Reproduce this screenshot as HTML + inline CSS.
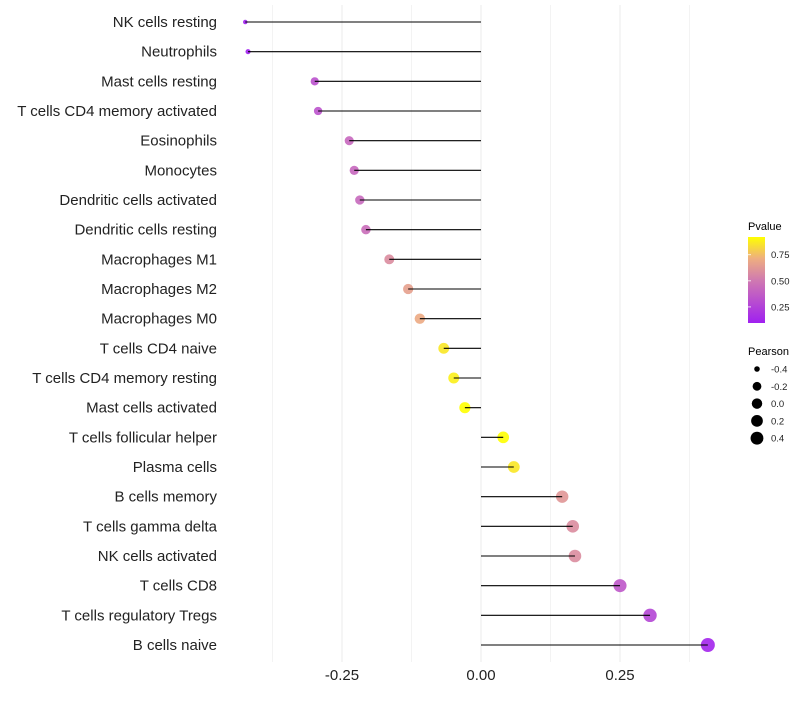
<!DOCTYPE html>
<html><head><meta charset="utf-8"><style>
body{margin:0;background:#fff;font-family:"Liberation Sans",sans-serif}
svg text{font-family:"Liberation Sans",sans-serif}
</style></head><body>
<svg id="chart" width="800" height="700" xmlns="http://www.w3.org/2000/svg">
<defs><linearGradient id="pg" x1="0" y1="1" x2="0" y2="0">
<stop offset="0" stop-color="#a020f0"/><stop offset="0.5" stop-color="#d07ab0"/><stop offset="0.75" stop-color="#eeae80"/><stop offset="1" stop-color="#ffff00"/></linearGradient></defs>
<g id="grid"></g>
<g id="marks"></g>
<g id="ylab"></g>
<g id="xlab"></g>
<g>
<text x="748" y="230" font-size="11">Pvalue</text>
<rect x="748" y="237" width="17" height="86" fill="url(#pg)"/>
<g id="cbt"></g>
</g>
<g id="sizeleg">
<text x="748" y="355" font-size="11">Pearson</text>
</g>
</svg>
<script>
const categories=["NK cells resting","Neutrophils","Mast cells resting","T cells CD4 memory activated","Eosinophils","Monocytes","Dendritic cells activated","Dendritic cells resting","Macrophages M1","Macrophages M2","Macrophages M0","T cells CD4 naive","T cells CD4 memory resting","Mast cells activated","T cells follicular helper","Plasma cells","B cells memory","T cells gamma delta","NK cells activated","T cells CD8","T cells regulatory  Tregs","B cells naive"];
const pearson=[-0.424,-0.419,-0.299,-0.293,-0.237,-0.228,-0.218,-0.207,-0.165,-0.131,-0.110,-0.067,-0.049,-0.029,0.040,0.059,0.146,0.165,0.169,0.250,0.304,0.408];
const pvalue=[0.05,0.06,0.32,0.33,0.42,0.42,0.43,0.45,0.58,0.66,0.70,0.86,0.88,0.95,0.93,0.86,0.62,0.58,0.58,0.35,0.27,0.12];
const xTicks=[-0.25,0,0.25];
const xTickLabels=["-0.25","0.00","0.25"];
const xMinor=[-0.375,-0.125,0.125,0.375];
const cbTicks=[0.25,0.5,0.75];
const cbTickLabels=["0.25","0.50","0.75"];
const sizeVals=[-0.4,-0.2,0,0.2,0.4];
const sizeLabels=["-0.4","-0.2","0.0","0.2","0.4"];
const NS="http://www.w3.org/2000/svg";
const X=v=>481+v*556;
const Y=i=>22+i*(623/21);
const R=v=>2+5*Math.pow(Math.max(0,(v+0.425)/0.835),0.45);
const pMin=0.096,pMax=0.92;
const stops=[[0,[160,32,240]],[0.5,[208,122,176]],[0.75,[238,174,128]],[1,[255,255,0]]];
function col(p){let t=Math.max(0,Math.min(1,(p-pMin)/(pMax-pMin)));for(let k=1;k<stops.length;k++){if(t<=stops[k][0]){const a=stops[k-1],b=stops[k];const f=(t-a[0])/(b[0]-a[0]);return "rgb("+a[1].map((c,j)=>Math.round(c+(b[1][j]-c)*f)).join(",")+")";}}return "rgb(255,255,0)";}
function mk(t,a,p){const e=document.createElementNS(NS,t);for(const k in a)e.setAttribute(k,a[k]);p.appendChild(e);return e;}
const grid=document.getElementById('grid');
xMinor.forEach(v=>{const l=mk('line',{x1:X(v),x2:X(v),y1:5,y2:662,stroke:'#f3f3f3','stroke-width':1},grid);

});
xTicks.forEach(v=>{const l=mk('line',{x1:X(v),x2:X(v),y1:5,y2:662,stroke:'#ebebeb','stroke-width':1},grid);

});
const marks=document.getElementById('marks'),ylab=document.getElementById('ylab');
categories.forEach((c,i)=>{const y=Y(i);
const d=mk('circle',{cx:X(pearson[i]),cy:y,r:R(pearson[i]),fill:col(pvalue[i]),'fill-opacity':0.9},marks);


const s=mk('line',{x1:X(0),x2:X(pearson[i]),y1:y,y2:y,stroke:'#000','stroke-width':1.1},marks);


const t=mk('text',{x:217,y:y+5,'text-anchor':'end','font-size':15,fill:'#222'},ylab);t.textContent=c;

});
const xl=document.getElementById('xlab');
xTicks.forEach((v,i)=>{const t=mk('text',{x:X(v),y:680,'text-anchor':'middle','font-size':15,fill:'#222'},xl);t.textContent=xTickLabels[i];

});
const cbt=document.getElementById('cbt');
cbTicks.forEach((v,i)=>{const y=323-(v-pMin)/(pMax-pMin)*86;
const l=mk('line',{x1:748,x2:751,y1:y,y2:y,stroke:'#fff','stroke-width':0.8},cbt);


const t=mk('text',{x:771,y:y+3.5,'font-size':9.5,fill:'#222'},cbt);t.textContent=cbTickLabels[i];

});
const sl=document.getElementById('sizeleg');
sizeVals.forEach((v,i)=>{const y=369+i*17.3;
const c=mk('circle',{cx:757,cy:y,r:R(v)*0.92,fill:'#000'},sl);


const t=mk('text',{x:771,y:y+3.5,'font-size':9.5,fill:'#222'},sl);t.textContent=sizeLabels[i];

});
</script>
</body></html>
